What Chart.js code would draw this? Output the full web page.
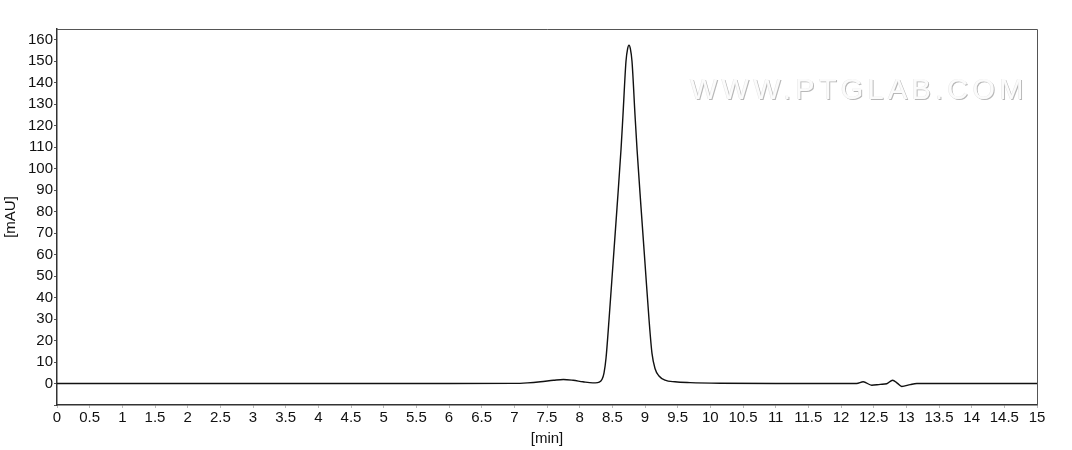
<!DOCTYPE html>
<html>
<head>
<meta charset="utf-8">
<script src="https://cdn.jsdelivr.net/npm/chart.js@4.4.1/dist/chart.umd.min.js"></script>
<style>
html,body{margin:0;padding:0;background:#fff;}
#wrap{width:1072px;height:450px;}
</style>
</head>
<body>
<div id="wrap"><canvas id="c" width="1072" height="450"></canvas></div>
<script>
// Retention times [min]
const times = [
  0, 3, 6, 7.0, 7.2, 7.4, 7.6, 7.75, 7.9, 8.05, 8.2, 8.24, 8.3, 8.343, 8.373, 8.404, 8.45, 8.511, 8.572, 8.633, 8.663, 8.709, 8.735, 8.755,
  8.775, 8.801, 8.847, 8.878, 8.939, 9.0, 9.061, 9.107, 9.153, 9.214, 9.306, 9.459, 9.69, 10.15, 11, 12.24, 12.34, 12.47, 12.6, 12.7, 12.79, 12.86,
  12.93, 13.06, 13.16, 14, 15
];
// Detector signal [mAU]
const signal = [
  0, 0, 0, 0.05, 0.3, 0.8, 1.5, 1.9, 1.5, 0.8, 0.3, 0.3, 0.6, 2, 5, 12, 30, 56, 82, 109, 125, 150, 156, 157.5,
  156, 150, 125, 109, 82, 56, 30, 14, 7, 3.5, 1.6, 0.8, 0.4, 0.1, 0, 0, 0.8, -0.8, -0.4, -0.1, 1.5, 0.2,
  -1.4, -0.5, 0, 0, 0
];
const xTicks = [0,0.5,1,1.5,2,2.5,3,3.5,4,4.5,5,5.5,6,6.5,7,7.5,8,8.5,9,9.5,10,10.5,11,11.5,12,12.5,13,13.5,14,14.5,15];
const yTicks = [-10,0,10,20,30,40,50,60,70,80,90,100,110,120,130,140,150,160];
const xRange = [0, 15];
const yRange = [-10, 165];
const xTitle = '[min]';
const yTitle = '[mAU]';
const watermark = 'WWW.PTGLAB.COM';

const points = times.map((t, i) => ({x: t, y: signal[i]}));

const frame = {
  id: 'frame',
  afterDraw(chart) {
    const {ctx, chartArea: a} = chart;
    ctx.save();
    ctx.strokeStyle = '#555';
    ctx.lineWidth = 1;
    ctx.beginPath();
    ctx.moveTo(a.left, a.top + 0.5);
    ctx.lineTo(a.right + 0.5, a.top + 0.5);
    ctx.lineTo(a.right + 0.5, a.bottom);
    ctx.stroke();
    ctx.restore();
  },
  beforeDatasetsDraw(chart) {
    const {ctx, chartArea: a} = chart;
    ctx.save();
    ctx.font = '29px "Liberation Sans", Arial, sans-serif';
    try { ctx.letterSpacing = '4.2px'; } catch (e) {}
    ctx.textBaseline = 'alphabetic';
    ctx.textAlign = 'left';
    const x = a.left + 633, y = a.top + 70;
    ctx.fillStyle = '#b8b8b8';
    ctx.fillText(watermark, x + 1, y + 1);
    ctx.fillStyle = '#e6e6e6';
    ctx.fillText(watermark, x - 0.5, y - 0.5);
    ctx.fillStyle = '#fbfbfb';
    ctx.fillText(watermark, x, y);
    ctx.restore();
  }
};

const font = {family: '"Liberation Sans", Arial, sans-serif', size: 15};

new Chart(document.getElementById('c'), {
  type: 'line',
  data: {
    datasets: [{
      data: points,
      borderColor: '#111',
      borderWidth: 1.4,
      pointRadius: 0,
      fill: false,
      cubicInterpolationMode: 'monotone'
    }]
  },
  options: {
    responsive: false,
    animation: false,
    layout: {padding: {top: 29, right: 35, left: 2, bottom: 0}},
    plugins: {legend: {display: false}, tooltip: {enabled: false}},
    scales: {
      x: {
        type: 'linear',
        min: xRange[0], max: xRange[1],
        afterFit(s) { s.height = 45; },
        afterBuildTicks(s) { s.ticks = xTicks.map(v => ({value: v})); },
        ticks: {autoSkip: false, maxRotation: 0, color: '#111', font: font, padding: 1,
          callback: (v) => String(v)},
        grid: {drawOnChartArea: false, drawTicks: true, tickLength: 3, color: '#bbb'},
        border: {display: true, color: '#333', width: 1.5},
        title: {display: true, text: xTitle, color: '#111', font: font, padding: {top: 0, bottom: 2}}
      },
      y: {
        type: 'linear',
        min: yRange[0], max: yRange[1],
        afterFit(s) { s.width = 55; },
        afterBuildTicks(s) { s.ticks = yTicks.map(v => ({value: v})); },
        ticks: {
          autoSkip: false, color: '#111', font: font, padding: 1,
          callback: (v) => v < 0 ? '' : String(v)
        },
        grid: {drawOnChartArea: false, drawTicks: true, tickLength: 3, color: '#555'},
        border: {display: true, color: '#333', width: 1.5},
        title: {display: true, text: yTitle, color: '#111', font: font, padding: {top: 0, bottom: 1}}
      }
    }
  },
  plugins: [frame]
});
</script>
</body>
</html>
